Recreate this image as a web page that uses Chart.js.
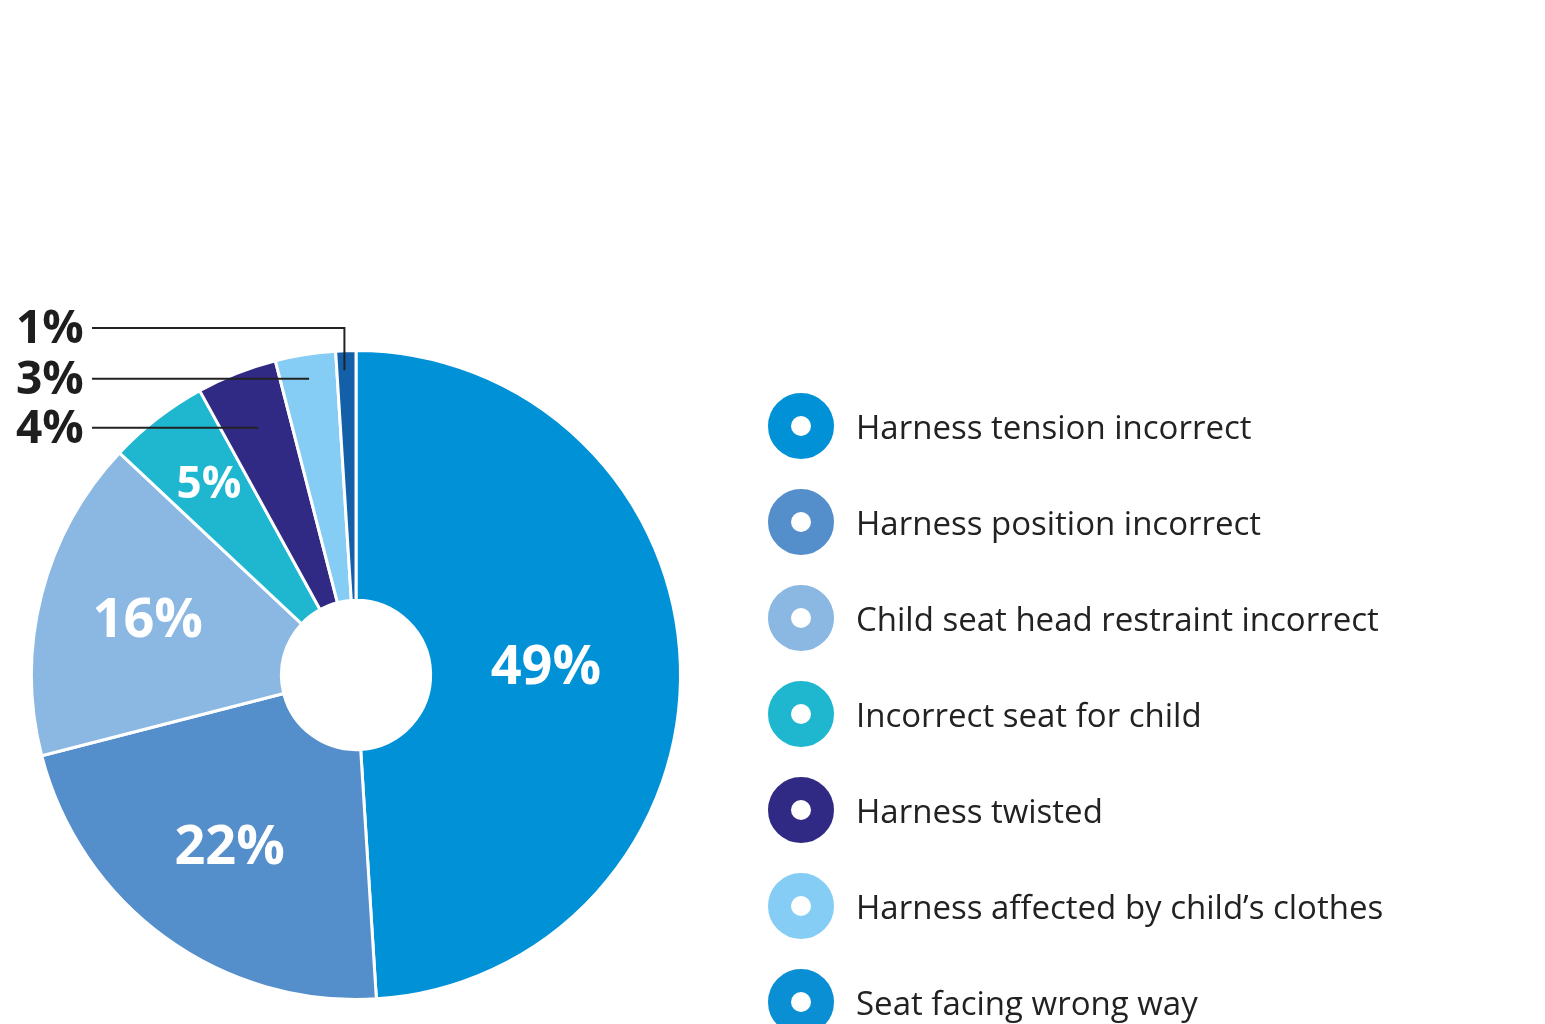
<!DOCTYPE html>
<html><head><meta charset="utf-8">
<script src="https://cdn.jsdelivr.net/npm/chart.js@4/dist/chart.umd.min.js"></script>
<style>
body{margin:0;background:#fff;width:1545px;height:1024px;position:relative;overflow:hidden;font-family:"Open Sans",sans-serif}
#wrap{position:absolute;left:0;top:0;width:1545px;height:1024px}
#legend{position:absolute;left:768px;top:378px}
.row{display:flex;align-items:center;height:96px;margin:0}
.ring{width:46px;height:46px;border-radius:50%;border:10px solid;background:#fff;margin-right:22px;box-sizing:content-box}
.row span{font-size:33px;color:#222}
</style></head><body>
<div id="wrap"><canvas id="c" width="1545" height="1024"></canvas></div>
<div id="legend"></div>
<script>
'use strict';

const categories = [
    'Harness tension incorrect',
    'Harness position incorrect',
    'Child seat head restraint incorrect',
    'Incorrect seat for child',
    'Harness twisted',
    'Harness affected by child\u2019s clothes',
    'Seat facing wrong way'
];
const values = [49, 22, 16, 5, 4, 3, 1];
const sliceColors = ['#0091d7', '#548ecb', '#8ab8e3', '#1fb7d0', '#302a84', '#85cdf5', '#1360a8'];
const legendColors = ['#0091d7', '#548ecb', '#8ab8e3', '#1fb7d0', '#302a84', '#85cdf5', '#0a8fd4'];

// labels outside the ring: index -> radius of leader end, label y offset
const outside = { 4: { r: 266 }, 5: { r: 300 }, 6: { r: 305, elbowY: 328 } };

// Legend
const legend = document.getElementById('legend');
categories.forEach((name, i) => {
    const row = document.createElement('div');
    row.className = 'row';
    row.innerHTML = `<div class="ring" style="border-color:${legendColors[i]};border-width:23px;width:20px;height:20px"></div><span>${name}</span>`;
    legend.appendChild(row);
});

const labelPlugin = {
    id: 'sliceLabels',
    afterDraw(chart) {
        const ctx = chart.ctx;
        const arcs = chart.getDatasetMeta(0).data;
        ctx.save();
        arcs.forEach((arc, i) => {
            const mid = (arc.startAngle + arc.endAngle) / 2;
            const text = values[i] + '%';
            if (outside[i]) {
                const o = outside[i];
                const px = arc.x + Math.cos(mid) * o.r;
                const py = arc.y + Math.sin(mid) * o.r;
                const ly = o.elbowY || py;
                ctx.strokeStyle = '#222';
                ctx.lineWidth = 2;
                ctx.beginPath();
                ctx.moveTo(92, ly);
                if (o.elbowY) {
                    ctx.lineTo(px - 2, ly);
                    ctx.lineTo(px - 2, py);
                } else {
                    ctx.lineTo(px, py);
                }
                ctx.stroke();
                ctx.fillStyle = '#1e1e1e';
                ctx.font = 'bold 46px "Open Sans"';
                ctx.textAlign = 'left';
                ctx.textBaseline = 'middle';
                ctx.fillText(text, 16, ly + 2);
            } else {
                const r = i === 0 ? 190 : (i === 3 ? 240 : 215);
                const x = arc.x + Math.cos(mid) * r;
                const y = arc.y + Math.sin(mid) * r;
                ctx.fillStyle = '#fff';
                ctx.font = 'bold ' + (i === 3 ? 44 : 54) + 'px "Open Sans"';
                ctx.textAlign = 'center';
                ctx.textBaseline = 'middle';
                ctx.fillText(text, x, y);
            }
        });
        ctx.restore();
    }
};

new Chart(document.getElementById('c'), {
    type: 'doughnut',
    data: {
        labels: categories,
        datasets: [{
            data: values,
            backgroundColor: sliceColors,
            borderColor: '#fff',
            borderWidth: 3
        }]
    },
    options: {
        responsive: false,
        animation: false,
        cutout: '23%',
        layout: { padding: { left: 30, top: 349, right: 863, bottom: 23 } },
        plugins: { legend: { display: false }, tooltip: { enabled: false } }
    },
    plugins: [labelPlugin]
});
</script>
</body></html>
